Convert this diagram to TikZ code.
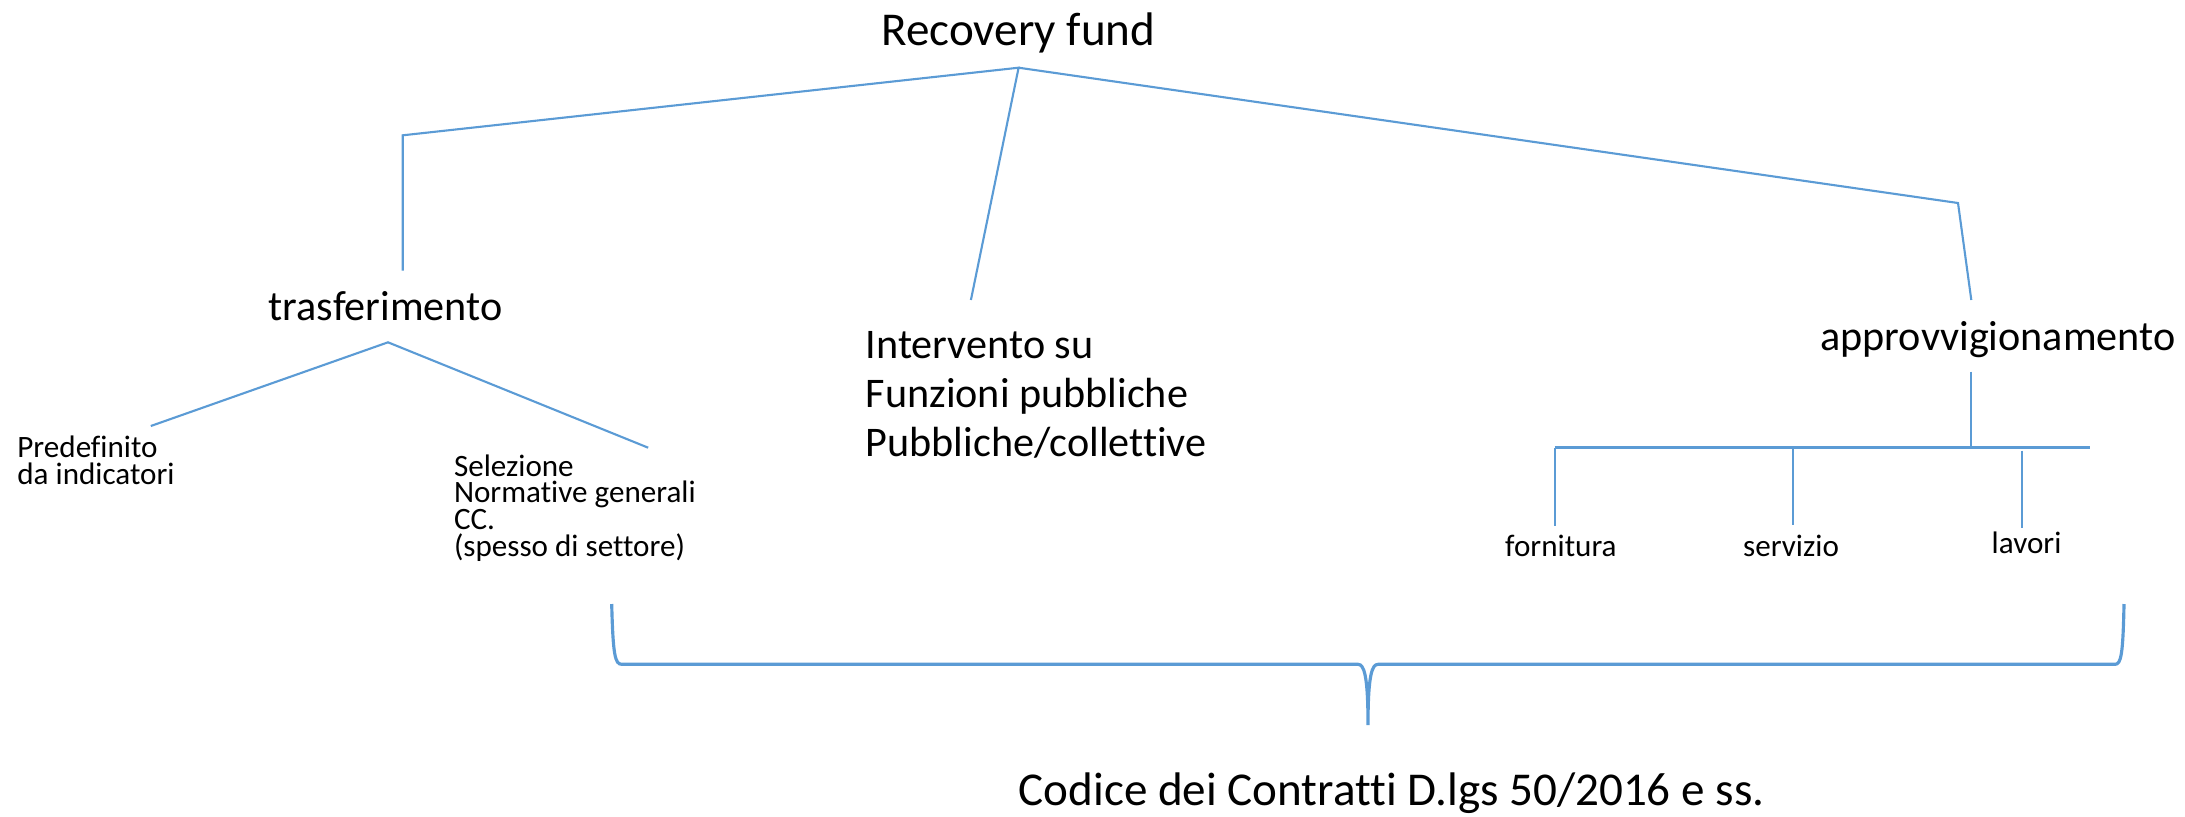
\documentclass[tikz,border=0pt]{standalone}
\usepackage{fontspec}
\setmainfont{Carlito}[Ligatures = NoCommon]
\definecolor{lineblue}{RGB}{91,155,213}
\tikzset{
    branch/.style = {draw = lineblue, line width = 0.6pt},
    bracket/.style = {draw = lineblue, line width = 0.9pt},
    bigtext/.style = {font = \fontsize{13.4}{16}\selectfont, inner sep = 0pt, anchor = base west},
    midtext/.style = {font = \fontsize{12}{14}\selectfont, inner sep = 0pt, anchor = base west},
    smalltext/.style = {font = \fontsize{8.85}{7.65}\selectfont, inner sep = 0pt, anchor = base west, align = left}
}
\begin{document}
\begin{tikzpicture}
            \useasboundingbox (0,0) rectangle (21.85,-8.16);
            \node[bigtext] (rf) at (8.807,-0.45) {Recovery fund};
            \node[midtext] (tras) at (2.68,-3.207) {trasferimento};
            \node[midtext, align = left] (interv) at (8.65,-4.567) {Intervento su\\Funzioni pubbliche\\Pubbliche/collettive};
            \node[midtext] (approv) at (18.197,-3.50) {approvvigionamento};
            \node[smalltext] (predef) at (0.167,-4.84) {Predefinito\\da indicatori};
            \node[smalltext] (selez) at (4.533,-5.567) {Selezione\\Normative generali\\CC.\\(spesso di settore)};
            \node[smalltext] (forn) at (15.045,-5.567) {fornitura};
            \node[smalltext] (serv) at (17.424,-5.567) {servizio};
            \node[smalltext] (lav) at (19.91,-5.533) {lavori};
            \node[bigtext] (codice) at (10.18,-8.05) {Codice dei Contratti D.lgs 50/2016 e ss.};
            \coordinate (rf-j) at (10.186,-0.677);
            \coordinate (tras-k) at (4.027,-1.353);
            \coordinate (tras-t) at (4.027,-2.707);
            \coordinate (interv-t) at (9.709,-3.0);
            \coordinate (approv-k) at (19.58,-2.03);
            \coordinate (approv-t) at (19.713,-3.0);
            \draw[branch] (tras-t) -- (tras-k) -- (rf-j) -- (interv-t);
            \draw[branch] (rf-j) -- (approv-k) -- (approv-t);
            \coordinate (tras-j) at (3.88,-3.423);
            \coordinate (predef-t) at (1.508,-4.26);
            \coordinate (selez-t) at (6.482,-4.477);
            \draw[branch] (predef-t) -- (tras-j) -- (selez-t);
            \coordinate (approv-j) at (19.713,-3.717);
            \coordinate (bar-m) at (19.713,-4.477);
            \coordinate (bar-l) at (15.547,-4.477);
            \coordinate (bar-r) at (20.9,-4.477);
            \draw[branch] (approv-j) -- (bar-m);
            \draw[bracket] (bar-l) -- (bar-r);
            \foreach \n/\x/\ya/\yb in {forn/15.547/4.477/5.257, serv/17.927/4.477/5.247, lav/20.216/4.507/5.277} {
                \coordinate (\n-a) at (\x,-\ya);
                \coordinate (\n-b) at (\x,-\yb);
                \draw[branch] (\n-a) -- (\n-b);
            }
            \coordinate (brace-l) at (6.117,-6.04);
            \coordinate (brace-lb) at (6.217,-6.643);
            \coordinate (brace-ml) at (13.58,-6.643);
            \coordinate (brace-tip) at (13.68,-7.25);
            \coordinate (brace-mr) at (13.78,-6.643);
            \coordinate (brace-rb) at (21.15,-6.643);
            \coordinate (brace-r) at (21.24,-6.04);
            \draw[bracket] (brace-l) .. controls (6.13,-6.55) and (6.15,-6.643) .. (brace-lb) -- (brace-ml)
                .. controls (13.64,-6.643) and (13.68,-6.75) .. (brace-tip)
                .. controls (13.68,-6.75) and (13.72,-6.643) .. (brace-mr) -- (brace-rb)
                .. controls (21.21,-6.643) and (21.23,-6.55) .. (brace-r);
\end{tikzpicture}
\end{document}
